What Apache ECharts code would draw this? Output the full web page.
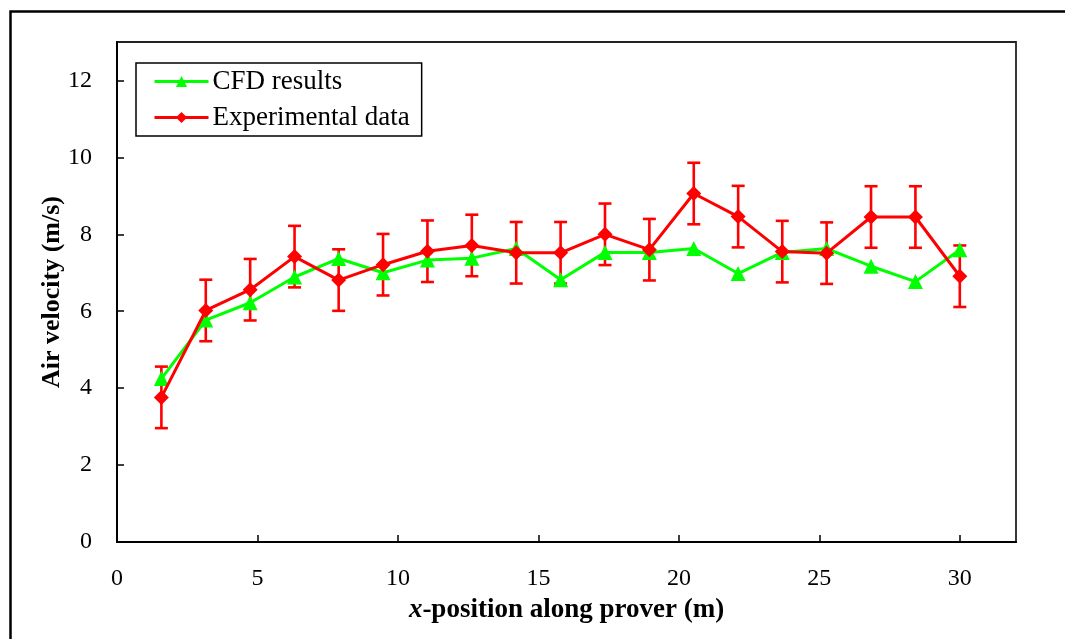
<!DOCTYPE html>
<html>
<head>
<meta charset="utf-8">
<script src="https://cdn.jsdelivr.net/npm/echarts@6/dist/echarts.min.js"></script>
<style>html,body{margin:0;padding:0;background:#fff;}#c{width:1065px;height:639px;}</style>
</head>
<body>
<div id="c"></div>
<script>
const xPos = [1.58, 3.16, 4.74, 6.32, 7.89, 9.47, 11.05, 12.63, 14.21, 15.79, 17.37, 18.95, 20.53, 22.11, 23.68, 25.26, 26.84, 28.42, 30.0];
const cfd = [4.25, 5.77, 6.22, 6.89, 7.37, 7.0, 7.33, 7.38, 7.63, 6.82, 7.53, 7.53, 7.63, 6.98, 7.53, 7.63, 7.17, 6.77, 7.6];
const expData = [3.76, 6.02, 6.56, 7.42, 6.81, 7.21, 7.56, 7.71, 7.52, 7.52, 8.0, 7.6, 9.06, 8.46, 7.55, 7.51, 8.45, 8.45, 6.91];
const expErr = [0.8, 0.8, 0.8, 0.8, 0.8, 0.8, 0.8, 0.8, 0.8, 0.8, 0.8, 0.8, 0.8, 0.8, 0.8, 0.8, 0.8, 0.8, 0.8];
const seriesNames = ['CFD results', 'Experimental data'];
const xTitleItalic = 'x';
const xTitleRest = '-position along prover (m)';
const yTitle = 'Air velocity (m/s)';

const FONT = '"Liberation Serif", "Times New Roman", serif';
const chart = echarts.init(document.getElementById('c'));

const cfdPts = xPos.map((x, i) => [x, cfd[i]]);
const expPts = xPos.map((x, i) => [x, expData[i]]);
const errPts = xPos.map((x, i) => [x, expData[i] - expErr[i], expData[i] + expErr[i]]);

chart.setOption({
  backgroundColor: '#fff',
  animation: false,
  graphic: [{
    type: 'rect', left: 8, top: 9, z: -1,
    shape: { x: 0, y: 0, width: 1080, height: 700 },
    style: { fill: 'none', stroke: '#000', lineWidth: 2.5 }
  }],
  grid: { left: 117, right: 49, top: 42, bottom: 97, show: true, borderColor: '#222', borderWidth: 1.8, backgroundColor: 'transparent' },
  legend: {
    data: seriesNames,
    orient: 'vertical',
    left: 136, top: 63,
    backgroundColor: '#fff',
    borderColor: '#000', borderWidth: 1.5, borderRadius: 0,
    padding: [5, 12, 5, 17],
    itemWidth: 54, itemHeight: 14, itemGap: 9,
    lineStyle: { width: 3 },
    textStyle: { fontFamily: FONT, fontSize: 27, lineHeight: 27, color: '#000', padding: [0, 0, 0, -1] }
  },
  xAxis: {
    type: 'value', min: 0, max: 32, interval: 5,
    name: '{i|' + xTitleItalic + '}' + xTitleRest, nameLocation: 'middle', nameGap: 55,
    nameMoveOverlap: false,
    nameTextStyle: {
      fontFamily: FONT, fontSize: 27, fontWeight: 'bold', color: '#000',
      rich: { i: { fontFamily: FONT, fontSize: 27, fontWeight: 'bold', fontStyle: 'italic', color: '#000' } }
    },
    axisLine: { show: true, onZero: false, lineStyle: { color: '#000', width: 2 } },
    axisTick: { show: true, inside: true, length: 7, lineStyle: { color: '#000', width: 1.5 } },
    axisLabel: {
      fontFamily: FONT, fontSize: 24, color: '#000', margin: 25,
      showMaxLabel: false
    },
    splitLine: { show: false }
  },
  yAxis: {
    type: 'value', min: 0, max: 13, interval: 2,
    name: yTitle, nameLocation: 'middle', nameGap: 52, nameRotate: 90,
    nameMoveOverlap: false,
    nameTextStyle: { fontFamily: FONT, fontSize: 26, fontWeight: 'bold', color: '#000' },
    axisLine: { show: true, lineStyle: { color: '#000', width: 2 } },
    axisTick: { show: true, inside: true, length: 7, lineStyle: { color: '#000', width: 1.5 } },
    axisLabel: { fontFamily: FONT, fontSize: 24, color: '#000', margin: 25, showMaxLabel: false },
    splitLine: { show: false }
  },
  series: [
    {
      type: 'custom', name: 'err', z: 3,
      data: errPts,
      encode: { x: 0, y: [1, 2] },
      renderItem: function (params, api) {
        const x = api.value(0);
        const lo = api.coord([x, api.value(1)]);
        const hi = api.coord([x, api.value(2)]);
        const hw = 6.5;
        const st = { stroke: '#ff0000', lineWidth: 2.6 };
        return {
          type: 'group', children: [
            { type: 'line', shape: { x1: lo[0], y1: lo[1], x2: hi[0], y2: hi[1] }, style: st },
            { type: 'line', shape: { x1: lo[0] - hw, y1: lo[1], x2: lo[0] + hw, y2: lo[1] }, style: st },
            { type: 'line', shape: { x1: hi[0] - hw, y1: hi[1], x2: hi[0] + hw, y2: hi[1] }, style: st }
          ]
        };
      }
    },
    {
      name: seriesNames[0], type: 'line', data: cfdPts, z: 4,
      symbol: 'triangle', symbolSize: 15,
      itemStyle: { color: '#00ff00' },
      lineStyle: { color: '#00ff00', width: 3 }
    },
    {
      name: seriesNames[1], type: 'line', data: expPts, z: 5,
      symbol: 'diamond', symbolSize: 15,
      itemStyle: { color: '#ff0000' },
      lineStyle: { color: '#ff0000', width: 3 }
    }
  ]
});
</script>
</body>
</html>
